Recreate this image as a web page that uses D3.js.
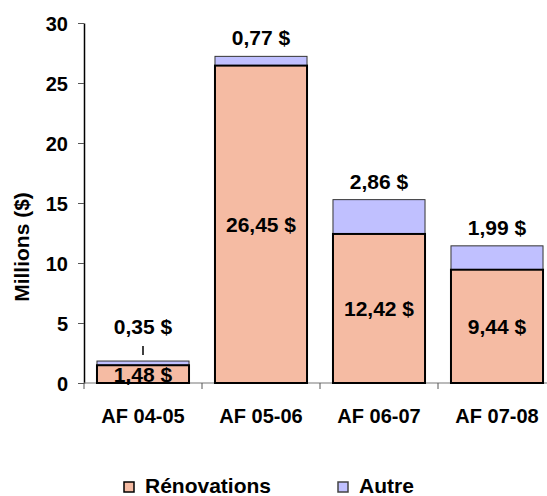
<!DOCTYPE html>
<html>
<head>
<meta charset="utf-8">
<script src="https://cdn.jsdelivr.net/npm/d3@7"></script>
<style>
  body { margin: 0; background: #fff; }
  text { font-family: "Liberation Sans", Arial, sans-serif; font-weight: bold; }
</style>
</head>
<body>
<div class="graph"></div>
<script>
const categories = ["AF 04-05", "AF 05-06", "AF 06-07", "AF 07-08"]
const renovations = [1.48, 26.45, 12.42, 9.44]
const autre = [0.35, 0.77, 2.86, 1.99]
const yTicks = [0, 5, 10, 15, 20, 25, 30]
const seriesNames = ["Rénovations", "Autre"]
const colors = ["#F5BBA3", "#C0C0FF"]

const width = 547
const height = 496
const margin = ({top: 23, right: -9, bottom: 113, left: 84})

const fmt = v => v.toFixed(2).replace(".", ",") + " $"

const x = d3.scaleBand()
  .domain(categories)
  .range([margin.left, width - margin.right])
  .paddingInner(0.22)
  .paddingOuter(0.11)

const y = d3.scaleLinear()
  .domain([0, 30])
  .range([height - margin.bottom, margin.top])

const svg = d3.select(".graph").append("svg")
  .attr("width", width)
  .attr("height", height)

const rows = categories.map((c, i) => ({cat: c, ren: renovations[i], aut: autre[i]}))

// y axis
svg.append("g")
  .attr("transform", `translate(${margin.left},0)`)
  .call(d3.axisLeft(y).tickValues(yTicks).tickSize(6).tickPadding(10).tickSizeOuter(0))
  .call(g => g.select(".domain").attr("stroke", "#000").attr("stroke-width", 1.5))
  .call(g => g.selectAll(".tick line").attr("stroke", "#555"))
  .call(g => g.selectAll(".tick text").attr("font-size", 20).attr("fill", "#000").attr("dy", "0.36em"))

// x axis (ticks between categories)
const tickPos = d3.scaleOrdinal().domain(categories).range(categories.map((c, i) => margin.left + i * x.step()))
const xAxis = svg.append("g")
  .attr("transform", `translate(0,${y(0)})`)
xAxis.append("line")
  .attr("x1", margin.left).attr("x2", width)
  .attr("stroke", "#777").attr("stroke-width", 1.2)
xAxis.selectAll("line.tk")
  .data(categories)
  .join("line")
  .attr("class", "tk")
  .attr("x1", d => tickPos(d)).attr("x2", d => tickPos(d))
  .attr("y1", 0).attr("y2", 6)
  .attr("stroke", "#555")
xAxis.selectAll("text")
  .data(categories)
  .join("text")
  .attr("x", d => x(d) + x.bandwidth() / 2)
  .attr("y", 40)
  .attr("text-anchor", "middle")
  .attr("font-size", 20)
  .text(d => d)

// bars
const bars = svg.append("g")
bars.selectAll("rect.aut")
  .data(rows)
  .join("rect")
  .attr("class", "aut")
  .attr("x", d => x(d.cat))
  .attr("width", x.bandwidth())
  .attr("y", d => y(d.ren + d.aut))
  .attr("height", d => y(d.ren) - y(d.ren + d.aut))
  .attr("fill", colors[1])
  .attr("stroke", "#333")
  .attr("stroke-width", 1)
bars.selectAll("rect.ren")
  .data(rows)
  .join("rect")
  .attr("class", "ren")
  .attr("x", d => x(d.cat))
  .attr("width", x.bandwidth())
  .attr("y", d => y(d.ren))
  .attr("height", d => y(0) - y(d.ren))
  .attr("fill", colors[0])
  .attr("stroke", "#000")
  .attr("stroke-width", 2)

// value labels
svg.append("g").selectAll("text")
  .data(rows)
  .join("text")
  .attr("x", d => x(d.cat) + x.bandwidth() / 2)
  .attr("y", d => (y(0) + y(d.ren)) / 2 + 8)
  .attr("text-anchor", "middle")
  .attr("font-size", 21)
  .text(d => fmt(d.ren))

svg.append("g").selectAll("text")
  .data(rows)
  .join("text")
  .attr("x", d => x(d.cat) + x.bandwidth() / 2)
  .attr("y", (d, i) => y(d.ren + d.aut) - (i === 0 ? 27 : 11))
  .attr("text-anchor", "middle")
  .attr("font-size", 21)
  .text(d => fmt(d.aut))

// leader line for the small first value
svg.append("line")
  .attr("x1", x(categories[0]) + x.bandwidth() / 2)
  .attr("x2", x(categories[0]) + x.bandwidth() / 2)
  .attr("y1", y(renovations[0] + autre[0]) - 15)
  .attr("y2", y(renovations[0] + autre[0]) - 6)
  .attr("stroke", "#000").attr("stroke-width", 1.5)

// y title
svg.append("text")
  .attr("transform", `translate(29,247) rotate(-90)`)
  .attr("text-anchor", "middle")
  .attr("font-size", 21)
  .text("Millions ($)")

// legend
const legX = [124, 338]
const leg = svg.append("g").selectAll("g")
  .data(seriesNames)
  .join("g")
  .attr("transform", (d, i) => `translate(${legX[i]},482)`)
leg.append("rect")
  .attr("width", 10).attr("height", 10)
  .attr("fill", (d, i) => colors[i])
  .attr("stroke", (d, i) => i === 0 ? "#000" : "#444")
  .attr("stroke-width", 1.5)
leg.append("text")
  .attr("x", 21).attr("y", 11)
  .attr("font-size", 21)
  .text(d => d)
</script>
</body>
</html>
